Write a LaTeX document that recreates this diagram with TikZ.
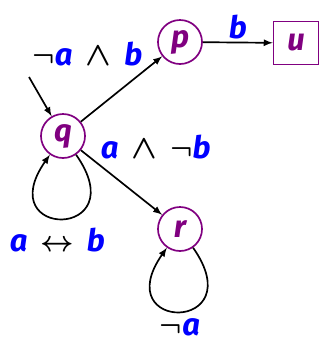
\documentclass[tikz,border=0pt]{standalone}
\usepackage{fontspec}
\setmainfont{Fira Sans}
\usetikzlibrary{arrows}
\definecolor{stpurple}{RGB}{128,0,128}
\definecolor{propblue}{RGB}{0,0,255}
\newcommand{\propa}{\textcolor{propblue}{a}}
\newcommand{\propb}{\textcolor{propblue}{b}}
\newcommand{\opneg}{$\neg$}
\newcommand{\opand}{\hspace{0.42em}\scalebox{1.15}{$\wedge$}\hspace{0.42em}}
\newcommand{\opiff}{\hspace{0.42em}$\leftrightarrow$\hspace{0.42em}}
\tikzset{
  bigfont/.style={font=\fontsize{22}{26}\selectfont\bfseries\itshape\boldmath},
  stnode/.style={circle, draw=stpurple, line width=1.2pt, minimum size=1.1cm,
    inner sep=0pt, text=stpurple, bigfont},
  stbox/.style={rectangle, draw=stpurple, line width=1.2pt, minimum width=1.12cm,
    minimum height=1.07cm, inner sep=0pt, text=stpurple, bigfont},
  trans/.style={-latex, line width=1.2pt},
  lbl/.style={bigfont, inner sep=2pt}
}
\begin{document}
\begin{tikzpicture}[x=0.025cm, y=0.025cm]
\useasboundingbox (0,0) rectangle (320,-338);
\node[stnode] (q) at (63,-136) {q};
\node[stnode] (p) at (180,-42) {p};
\node[stnode] (r) at (180,-229) {r};
\node[stbox] (u) at (296,-43) {u};
\coordinate (init) at (29,-77);

\draw[trans] (init) -- (q);
\draw[trans] (q) -- node[lbl, pos=0.8, above left]{\opneg\propa\opand\propb} (p);
\draw[trans] (p) -- node[lbl, above]{\propb} (u);
\draw[trans] (q) -- node[lbl, pos=0.2, above right]{\propa\opand\opneg\propb} (r);

% self loops
\draw[trans] (q.-55) .. controls +(-55:2.6cm) and +(-125:2.6cm) .. node[lbl, below=4pt, xshift=-4]{\propa\opiff\propb} (q.-125);
\draw[trans] (r.-55) .. controls +(-55:2.6cm) and +(-125:2.6cm) .. node[lbl, below=2pt]{\opneg\propa} (r.-125);
\end{tikzpicture}
\end{document}
